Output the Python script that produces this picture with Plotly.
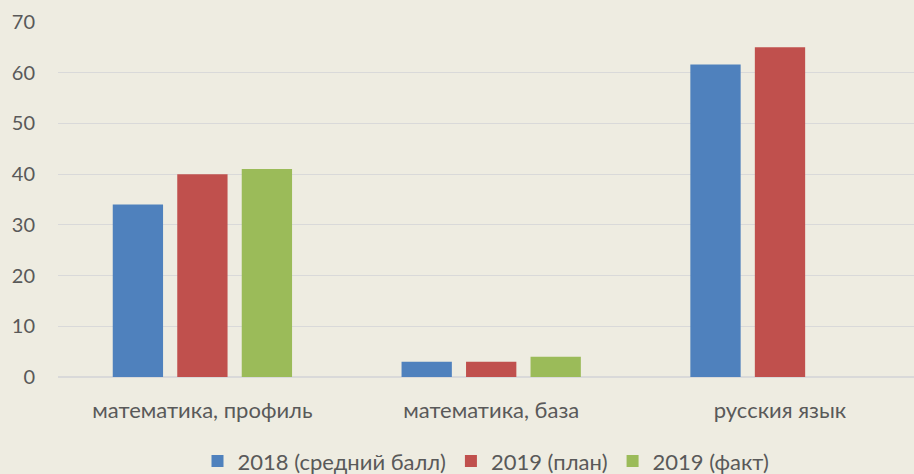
import plotly.graph_objects as go

categories = ["математика, профиль", "математика, база", "русския язык"]
series_names = ["2018 (средний балл)", "2019 (план)", "2019 (факт)"]
values_2018 = [34, 3, 61.6]
values_2019_plan = [40, 3, 65]
values_2019_fact = [41, 4, None]
colors = ["#4F81BD", "#C0504D", "#9BBB59"]
y_ticks = [0, 10, 20, 30, 40, 50, 60, 70]

FONT = "Lato, Open Sans, sans-serif"

fig = go.Figure()
for name, vals, col in zip(series_names, [values_2018, values_2019_plan, values_2019_fact], colors):
    fig.add_trace(go.Bar(x=categories, y=vals, name=name, marker_color=col,
                         marker_line_width=0))

fig.update_layout(
    width=914, height=474,
    paper_bgcolor="#EEECE1", plot_bgcolor="#EEECE1",
    margin=dict(l=58, r=0, t=22, b=97, autoexpand=False),
    barmode="group", bargap=0.33, bargroupgap=0.22,
    font=dict(family=FONT, color="#595959", size=22),
    showlegend=True,
    legend=dict(orientation="h", x=0.5, xanchor="center", yref="container", y=0.027, yanchor="middle",
                font=dict(size=22, color="#595959"), itemwidth=30, traceorder="normal"),
    xaxis=dict(range=[-0.5, 2.464], showgrid=False, ticks="", ticklabelstandoff=18,
               tickfont=dict(size=22, color="#595959"), showline=False, automargin=False),
    yaxis=dict(range=[0, 70], tickvals=y_ticks, showgrid=True, gridcolor="#D9D9D9",
               gridwidth=1, zeroline=True, zerolinecolor="#D9D9D9", zerolinewidth=2,
               ticklabelstandoff=22, tickfont=dict(size=20, color="#595959"), automargin=False),
)

fig.write_html("out.html", config={"displayModeBar": False},
               post_script="document.body.style.margin='0';")
